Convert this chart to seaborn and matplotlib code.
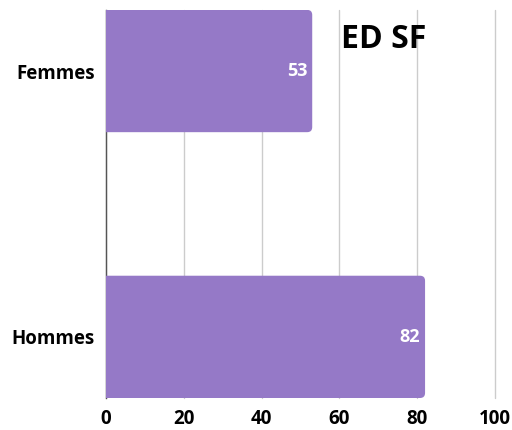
import matplotlib
matplotlib.use("Agg")
import matplotlib.pyplot as plt
from matplotlib.patches import FancyBboxPatch
import seaborn as sns
import pandas as pd

# data
categories = ["Femmes", "Hommes"]
values = [53, 82]
title = "ED SF"
bar_color = "#9579c7"

df = pd.DataFrame({"group": categories, "value": values})

sns.set_style("white")
plt.rcParams['font.family'] = ['Open Sans', 'DejaVu Sans']

fig = plt.figure(figsize=(5.12, 4.3), dpi=100)
ax = fig.add_axes([0.207, 0.0744, 0.760, 0.9026])

sns.barplot(data=df, x="value", y="group", color=bar_color, saturation=1,
            width=0.46, ax=ax, zorder=2)

ax.set_xlim(0, 100)
ax.set_ylim(1.23, -0.23)

# swap the plain rectangles for bars with rounded right corners
r = 1.3
for p in list(ax.patches):
    x0, y0 = p.get_x(), p.get_y()
    w, h = p.get_width(), p.get_height()
    p.remove()
    rb = FancyBboxPatch((x0 - 5, y0), w + 5, h,
                        boxstyle=f"round,pad=0,rounding_size={r}",
                        mutation_aspect=0.0146, facecolor=bar_color,
                        edgecolor="none", zorder=2)
    ax.add_patch(rb)

# value labels inside the bar ends
for i, v in enumerate(values):
    ax.text(v - 1.2, i, str(v), ha="right", va="center", color="white",
            fontsize=13, fontweight="bold", zorder=3)

ax.text(60.4, -0.12, title, ha="left", va="center", fontsize=23,
        fontweight="bold", color="black", zorder=3)

ax.set_xticks([0, 20, 40, 60, 80, 100])
ax.xaxis.grid(True, color="#cccccc", linewidth=1, zorder=0)
for gl in ax.get_xgridlines():
    gl.set_clip_on(False)
ax.set_axisbelow(True)
ax.set_xlabel("")
ax.set_ylabel("")
for s in ["top", "right", "bottom"]:
    ax.spines[s].set_visible(False)
ax.spines["left"].set_color("#555555")
ax.spines["left"].set_linewidth(1)
ax.spines["left"].set_zorder(1)
ax.tick_params(axis="both", length=0, labelsize=13.5, pad=8)
for lab in ax.get_xticklabels() + ax.get_yticklabels():
    lab.set_fontweight("bold")
    lab.set_color("black")

fig.savefig("out.png", dpi=100)
